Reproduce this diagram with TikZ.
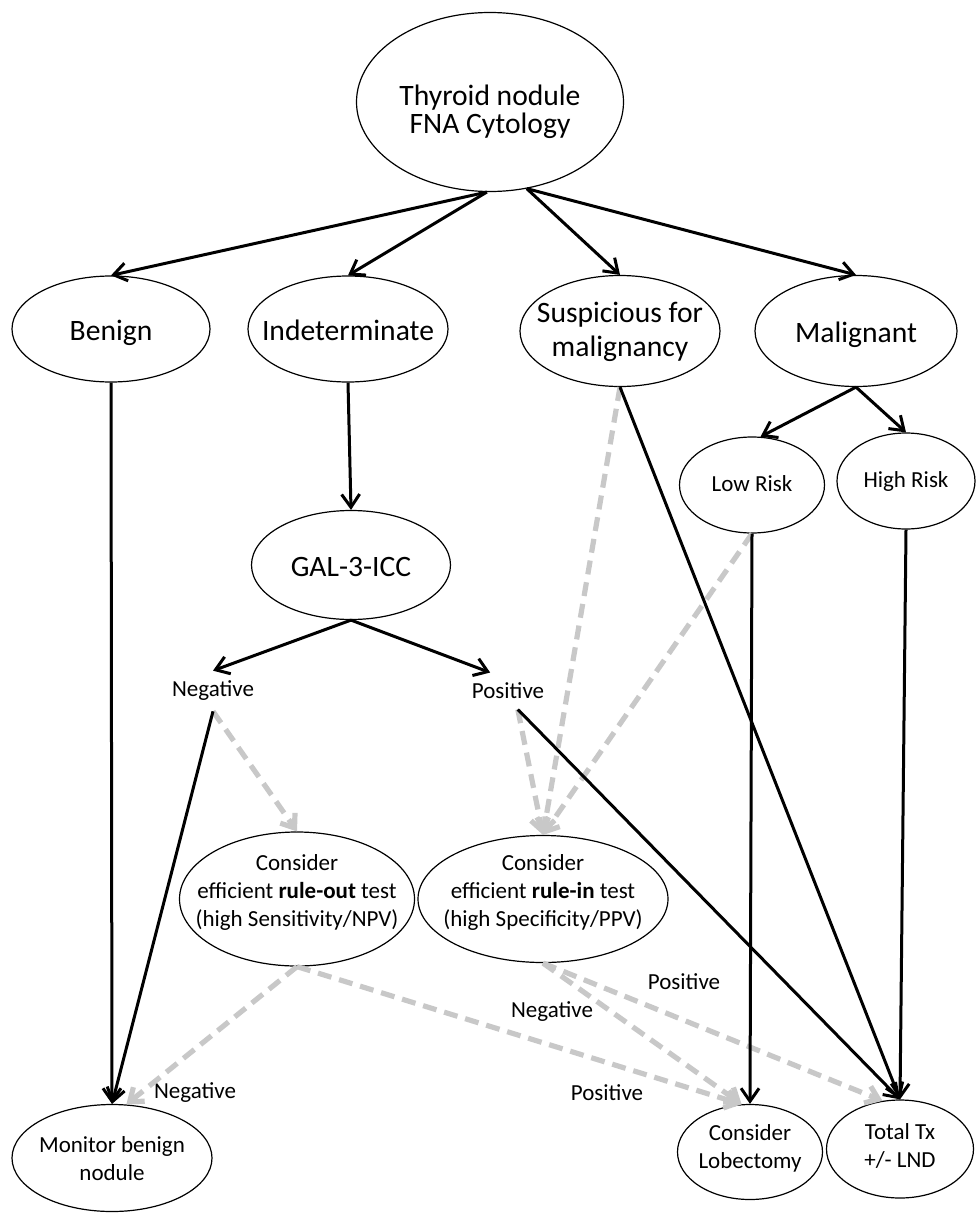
\documentclass[tikz,border=0pt]{standalone}
\usepackage{fontspec}
\setmainfont{Carlito}
\usetikzlibrary{shapes.geometric, arrows.meta, positioning}
\definecolor{DashGray}{RGB}{200, 200, 200}
% text with no size of its own, raised by the optional argument
\newcommand{\ovaltext}[2][0pt]{\makebox[0pt]{\raisebox{#1}[0pt][0pt]{\begin{tabular}{@{}c@{}}#2\end{tabular}}}}
\tikzstyle{bigoval} = [ellipse, draw=black, line width=0.6pt, inner sep=0pt, font=\fontsize{14.8}{17}\selectfont]
\tikzstyle{smalloval} = [ellipse, draw=black, line width=0.6pt, inner sep=0pt, font=\fontsize{11.5}{13.8}\selectfont]
\tikzstyle{result} = [inner sep=5pt, font=\fontsize{11.5}{13.8}\selectfont]
\tikzstyle{edgelabel} = [inner sep=0pt, font=\fontsize{11.5}{13.8}\selectfont]
\tikzstyle{arrow} = [-{Straight Barb[length=6.5pt, width=9pt]}, line width=1.5pt, black]
\tikzstyle{maybe} = [-{Straight Barb[length=6pt, width=9pt]}, line width=2.6pt, DashGray, dash pattern=on 7pt off 4pt]

\begin{document}
\begin{tikzpicture}[x=0.5pt, y=-0.5pt]
\useasboundingbox (0,0) rectangle (975,1215);

% Cytology and its four results
\node (thyroid) [bigoval, minimum width=133.5pt, minimum height=89.5pt] at (490,102) {\ovaltext[-9pt]{Thyroid nodule\\[-3pt]FNA Cytology}};
\node (benign) [bigoval, minimum width=99pt, minimum height=53pt] at (111,329) {\ovaltext[-6pt]{Benign}};
\node (indet) [bigoval, minimum width=100pt, minimum height=53pt] at (348,329) {\ovaltext[-6pt]{Indeterminate}};
\node (suspic) [bigoval, minimum width=100pt, minimum height=55.5pt] at (620,331) {\ovaltext[-4.5pt]{Suspicious for\\malignancy}};
\node (malig) [bigoval, minimum width=101pt, minimum height=55.5pt] at (856,331) {\ovaltext[-6pt]{Malignant}};

% Second level
\node (gal) [bigoval, minimum width=99.5pt, minimum height=54.5pt] at (351,565) {\ovaltext[-6pt]{GAL-3-ICC}};
\node (lowrisk) [smalloval, minimum width=72.5pt, minimum height=48pt] at (752,485) {\ovaltext[-3.5pt]{Low Risk}};
\node (highrisk) [smalloval, minimum width=69pt, minimum height=48pt] at (906,481) {\ovaltext[-3.5pt]{High Risk}};
\node (neg) [result] at (213,691) {Negative};
\node (pos) [result] at (508,691) {Positive};

% Further tests
\node (ruleout) [smalloval, minimum width=117.5pt, minimum height=67pt] at (297,899) {\ovaltext[0pt]{Consider\\efficient \textbf{rule-out} test\\(high Sensitivity/NPV)}};
\node (rulein) [smalloval, minimum width=125pt, minimum height=63.5pt] at (543,899) {\ovaltext[0pt]{Consider\\efficient \textbf{rule-in} test\\(high Specificity/PPV)}};

% Management
\node (monitor) [smalloval, minimum width=100pt, minimum height=53.5pt] at (112,1158) {\ovaltext[-4.5pt]{Monitor benign\\nodule}};
\node (lobect) [smalloval, minimum width=72.5pt, minimum height=47.5pt] at (750,1152) {\ovaltext[-1.5pt]{Consider\\Lobectomy}};
\node (totaltx) [smalloval, minimum width=73.5pt, minimum height=49pt] at (900,1149) {\ovaltext[-2.5pt]{Total Tx\\+/- LND}};

% Labels on the test outcomes
\node (negout) [edgelabel] at (195,1093) {Negative};
\node (posout) [edgelabel] at (607,1093) {Positive};
\node (negin) [edgelabel] at (552,1012) {Negative};
\node (posin) [edgelabel] at (684,982) {Positive};

% Optional test paths
\draw [maybe] (neg.south) -- (ruleout.north);
\draw [maybe] (pos.-62) -- (rulein.north);
\draw [maybe] (suspic.south) -- (rulein.north);
\draw [maybe] (lowrisk.south) -- (rulein.north);
\draw [maybe] (ruleout.south) -- (monitor.75);
\draw [maybe] (ruleout.south) -- (lobect.100);
\draw [maybe] (rulein.south) -- (lobect.100);
\draw [maybe] (rulein.south) -- (totaltx.110);

% Main paths
\draw [arrow] (thyroid.-92) -- (benign.north);
\draw [arrow] (thyroid.-92) -- (indet.north);
\draw [arrow] (thyroid.-67) -- (suspic.north);
\draw [arrow] (thyroid.-67) -- (malig.north);
\draw [arrow] (indet.south) -- (gal.north);
\draw [arrow] (gal.south) -- (neg.north);
\draw [arrow] (gal.south) -- (pos.134);
\draw [arrow] (malig.south) -- (lowrisk.80);
\draw [arrow] (malig.south) -- (highrisk.north);
\draw [arrow] (benign.south) -- (monitor.north);
\draw [arrow] (neg.south) -- (monitor.north);
\draw [arrow] (pos.-62) -- (totaltx.north);
\draw [arrow] (suspic.south) -- (totaltx.north);
\draw [arrow] (highrisk.south) -- (totaltx.north);
\draw [arrow] (lowrisk.south) -- (lobect.north);

\end{tikzpicture}
\end{document}
